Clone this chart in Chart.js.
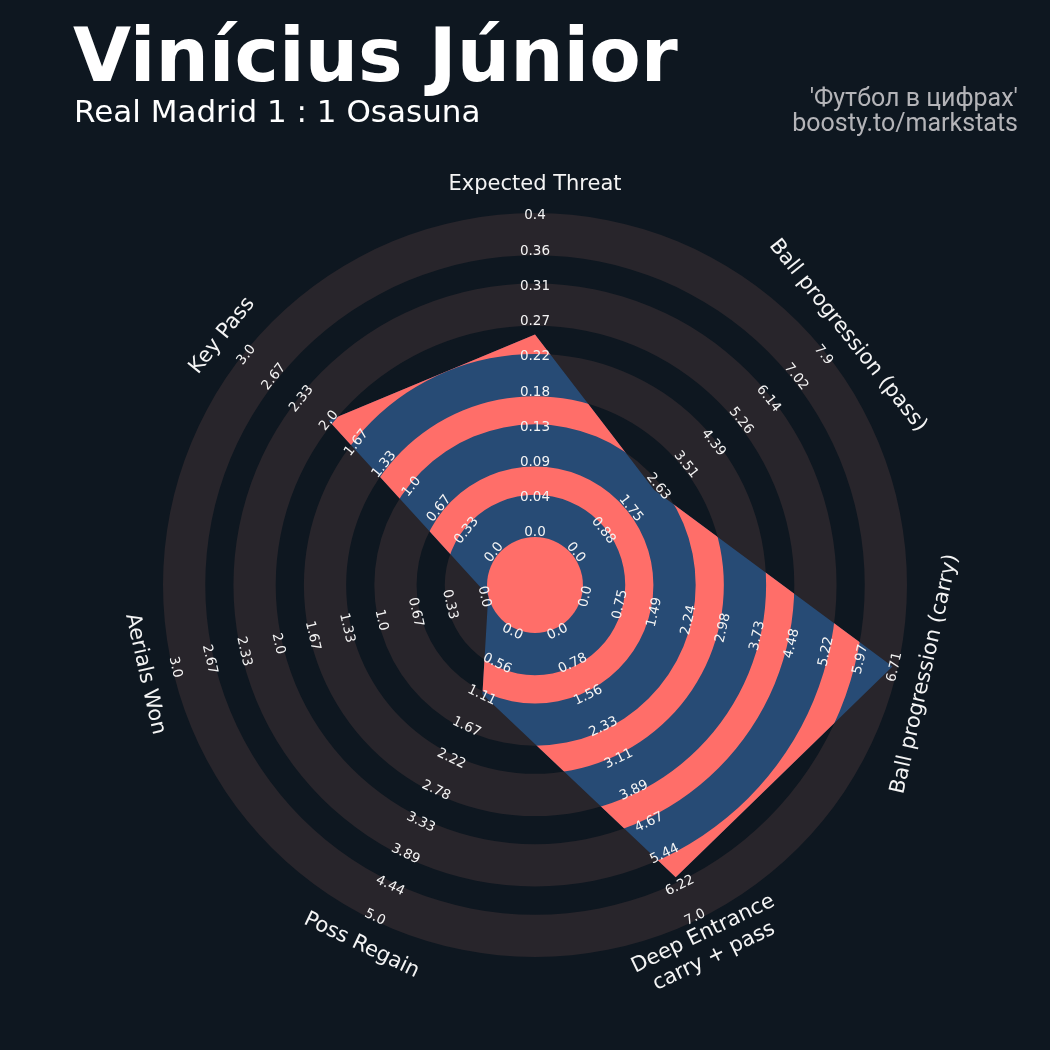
<!DOCTYPE html>
<html lang="en">
<head>
<meta charset="UTF-8">
<title>Vinícius Júnior - radar</title>
<script src="https://cdn.jsdelivr.net/npm/chart.js"></script>
<style>
  body { margin: 0; background: #0e1720; }
  .wrap { position: relative; width: 1050px; height: 1050px; overflow: hidden; }
  canvas { position: absolute; left: 0; top: 0; }
  .title { position: absolute; left: 73px; top: 18px; font: bold 75px/1 'DejaVu Sans'; color: #ffffff; white-space: nowrap; }
  .sub { position: absolute; left: 74px; top: 96px; font: 31px/1 'DejaVu Sans'; color: #ffffff; white-space: nowrap; }
  .credit { position: absolute; right: 32px; top: 85px; font: 25px/25px Roboto; color: #b4b4b8; text-align: right; white-space: nowrap; }
</style>
</head>
<body>
<div class="wrap">
  <canvas id="radar" width="1050" height="1050"></canvas>
  <div class="title">Vinícius Júnior</div>
  <div class="sub">Real Madrid 1 : 1 Osasuna</div>
  <div class="credit">'Футбол в цифрах'<br>boosty.to/markstats</div>
</div>

<script>
  // parameters, clockwise from the top
  const params = ['Expected Threat', 'Ball progression (pass)', 'Ball progression (carry)',
                  ['Deep Entrance', 'carry + pass'], 'Poss Regain', 'Aerials Won', 'Key Pass'];
  const values = [0.25, 2.55, 6.6, 5.97, 1.13, 0, 2.0];

  // range labels per axis (centre -> edge)
  const tickLabels = [
    ['0.0', '0.04', '0.09', '0.13', '0.18', '0.22', '0.27', '0.31', '0.36', '0.4'],
    ['0.0', '0.88', '1.75', '2.63', '3.51', '4.39', '5.26', '6.14', '7.02', '7.9'],
    ['0.0', '0.75', '1.49', '2.24', '2.98', '3.73', '4.48', '5.22', '5.97', '6.71'],
    ['0.0', '0.78', '1.56', '2.33', '3.11', '3.89', '4.67', '5.44', '6.22', '7.0'],
    ['0.0', '0.56', '1.11', '1.67', '2.22', '2.78', '3.33', '3.89', '4.44', '5.0'],
    ['0.0', '0.33', '0.67', '1.0', '1.33', '1.67', '2.0', '2.33', '2.67', '3.0'],
    ['0.0', '0.33', '0.67', '1.0', '1.33', '1.67', '2.0', '2.33', '2.67', '3.0']
  ];
  const rangeMax = tickLabels.map(t => parseFloat(t[t.length - 1]));

  const GRAY = '#28252b', CORAL = '#ff6e69', BLUE = '#274b75';
  // wide rings are 1.5x the narrow gaps: 5 wide + 4 narrow
  const W = 1.5 / 11.5, N = 1 / 11.5;

  function textRot(a) {
    let deg = a * 180 / Math.PI;
    if (deg > 90 && deg <= 270) deg -= 180;
    else if (deg > 270) deg -= 360;
    return deg * Math.PI / 180;
  }

  const radarRings = {
    id: 'radarRings',
    beforeDatasetsDraw(chart) {
      const ctx = chart.ctx, r = chart.scales.r;
      const cx = r.xCenter, cy = r.yCenter;
      const rad = v => r.getDistanceFromCenterForValue(v);
      function band(a, b, color) {
        ctx.beginPath();
        ctx.arc(cx, cy, rad(b), 0, 2 * Math.PI);
        ctx.arc(cx, cy, rad(a), 0, 2 * Math.PI, true);
        ctx.fillStyle = color;
        ctx.fill();
      }
      for (let k = 0; k < 5; k++) band(k * (W + N), k * (W + N) + W, GRAY);

      // polygon filled with its own rings
      const pts = chart.getDatasetMeta(0).data;
      ctx.save();
      ctx.beginPath();
      pts.forEach((p, i) => i ? ctx.lineTo(p.x, p.y) : ctx.moveTo(p.x, p.y));
      ctx.closePath();
      ctx.clip();
      ctx.fillStyle = BLUE;
      ctx.fillRect(0, 0, chart.width, chart.height);
      for (let k = 0; k < 4; k++) band(k * (W + N) + W, (k + 1) * (W + N), CORAL);
      ctx.restore();

      ctx.beginPath();
      ctx.arc(cx, cy, rad(0), 0, 2 * Math.PI);
      ctx.fillStyle = CORAL;
      ctx.fill();
    },
    afterDatasetsDraw(chart) {
      const ctx = chart.ctx, r = chart.scales.r;
      ctx.save();
      ctx.textAlign = 'center';
      ctx.textBaseline = 'middle';
      tickLabels.forEach((labels, i) => {
        const rot = textRot(r.getIndexAngle(i));
        labels.forEach((txt, k) => {
          const p = r.getPointPosition(i, r.getDistanceFromCenterForValue(0.019 + k * 0.978 / 9) - 2);
          ctx.save();
          ctx.translate(p.x, p.y);
          ctx.rotate(rot);
          ctx.font = '13.5px "DejaVu Sans"';
          ctx.fillStyle = '#f4f4f4';
          ctx.fillText(txt, 0, 0);
          ctx.restore();
        });
      });
      params.forEach((lab, i) => {
        const rot = textRot(r.getIndexAngle(i));
        const p = r.getPointPosition(i, r.drawingArea + 28);
        const lines = Array.isArray(lab) ? lab : [lab];
        ctx.save();
        ctx.translate(p.x, p.y);
        ctx.rotate(rot);
        ctx.font = '21px "DejaVu Sans"';
        ctx.fillStyle = '#f4f4f4';
        lines.forEach((ln, j) => ctx.fillText(ln, 0, (j - (lines.length - 1) / 2) * 25));
        ctx.restore();
      });
      ctx.restore();
    }
  };

  new Chart(document.getElementById('radar'), {
    type: 'radar',
    data: {
      labels: params,
      datasets: [{
        data: values.map((v, i) => v / rangeMax[i]),
        backgroundColor: 'transparent',
        borderWidth: 0,
        pointRadius: 0,
        fill: false
      }]
    },
    options: {
      responsive: false,
      animation: false,
      layout: { padding: { left: 163, right: 143, top: 213, bottom: 93 } },
      plugins: { legend: { display: false }, tooltip: { enabled: false } },
      scales: {
        r: {
          min: -0.148,
          max: 1,
          ticks: { display: false },
          grid: { display: false },
          angleLines: { display: false },
          pointLabels: { display: false }
        }
      }
    },
    plugins: [radarRings]
  });
</script>
</body>
</html>
